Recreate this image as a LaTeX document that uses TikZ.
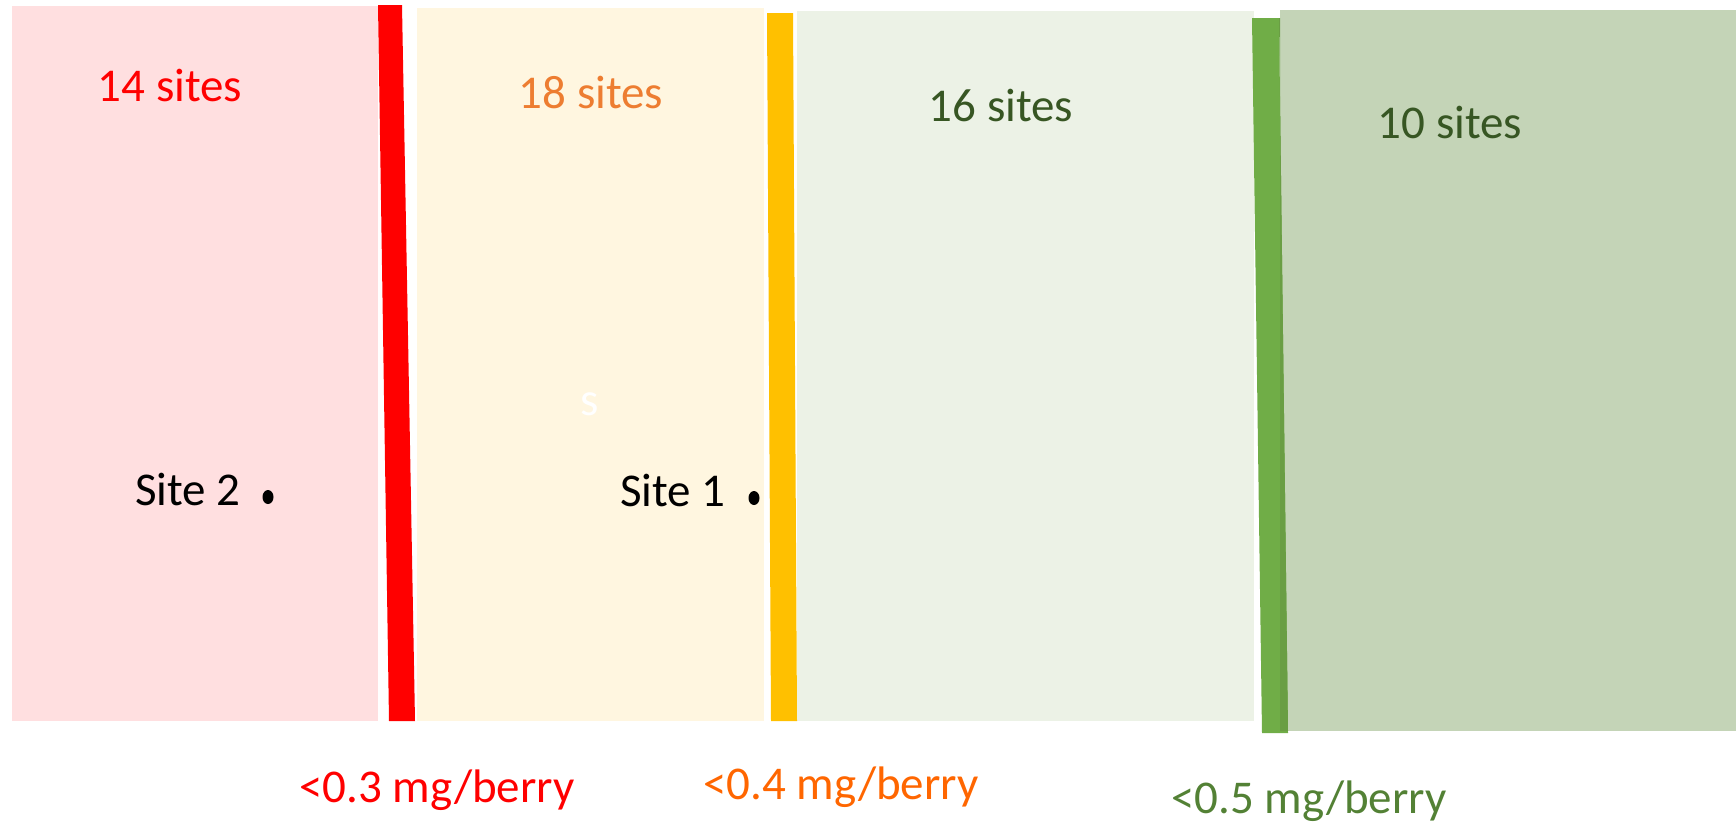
\documentclass[tikz,border=0pt]{standalone}
\usepackage{fontspec}
\setmainfont{Carlito}
\definecolor{pinkbg}{HTML}{FFDFE0}
\definecolor{yellowbg}{HTML}{FFF6E0}
\definecolor{lgreenbg}{HTML}{ECF2E6}
\definecolor{dgreenbg}{HTML}{C4D4B7}
\definecolor{redbar}{HTML}{FF0000}
\definecolor{orangebar}{HTML}{FFC000}
\definecolor{greenbar}{HTML}{70AD47}
\definecolor{greenbardk}{HTML}{6A9E44}
\definecolor{orangetxt}{HTML}{ED7D31}
\definecolor{orange2txt}{HTML}{FF6600}
\definecolor{dgreentxt}{HTML}{375623}
\definecolor{greentxt}{HTML}{538135}
\tikzset{
  lbl/.style={inner sep=0pt, font=\fontsize{23.5}{28}\selectfont},
  sitedot/.style={fill=black}
}
\begin{document}
\begin{tikzpicture}[x=0.5pt,y=-0.5pt]
\useasboundingbox (0,0) rectangle (1736,827);
% zones
\fill[pinkbg] (12,6) rectangle (378,721);
\fill[yellowbg] (417,8) rectangle (764,721);
\fill[lgreenbg] (797,11) rectangle (1254,721);
\fill[dgreenbg] (1280,10) rectangle (1736,731);
% threshold bars
\fill[redbar] (378,5) -- (402,5) -- (415,721) -- (389,721) -- cycle;
\fill[orangebar] (767,13) -- (793,13) -- (797,721) -- (771,721) -- cycle;
\fill[greenbar] (1252,18) -- (1279,18) -- (1288,733) -- (1262,733) -- cycle;
\fill[greenbardk] (1280,18) -- (1279,18) -- (1288,731) -- (1280,731) -- cycle;
% counts
\node[lbl, text=redbar] (n14) at (170,85) {14 sites};
\node[lbl, text=orangetxt] (n18) at (591,92) {18 sites};
\node[lbl, text=dgreentxt] (n16) at (1001,105) {16 sites};
\node[lbl, text=dgreentxt] (n10) at (1450,122) {10 sites};
% sites
\node[lbl] (s2) at (188,489) {Site 2};
\fill[sitedot] (268,497) ellipse (5.5 and 7);
\node[lbl] (s1) at (673,490) {Site 1};
\fill[sitedot] (754,498) ellipse (5.5 and 7);
\node[lbl, text=white] (ws) at (590,404) {s};
% thresholds
\node[lbl, text=redbar] (t3) at (437,790) {<0.3 mg/berry};
\node[lbl, text=orange2txt] (t4) at (841,787) {<0.4 mg/berry};
\node[lbl, text=greentxt] (t5) at (1309,801) {<0.5 mg/berry};
\end{tikzpicture}
\end{document}
